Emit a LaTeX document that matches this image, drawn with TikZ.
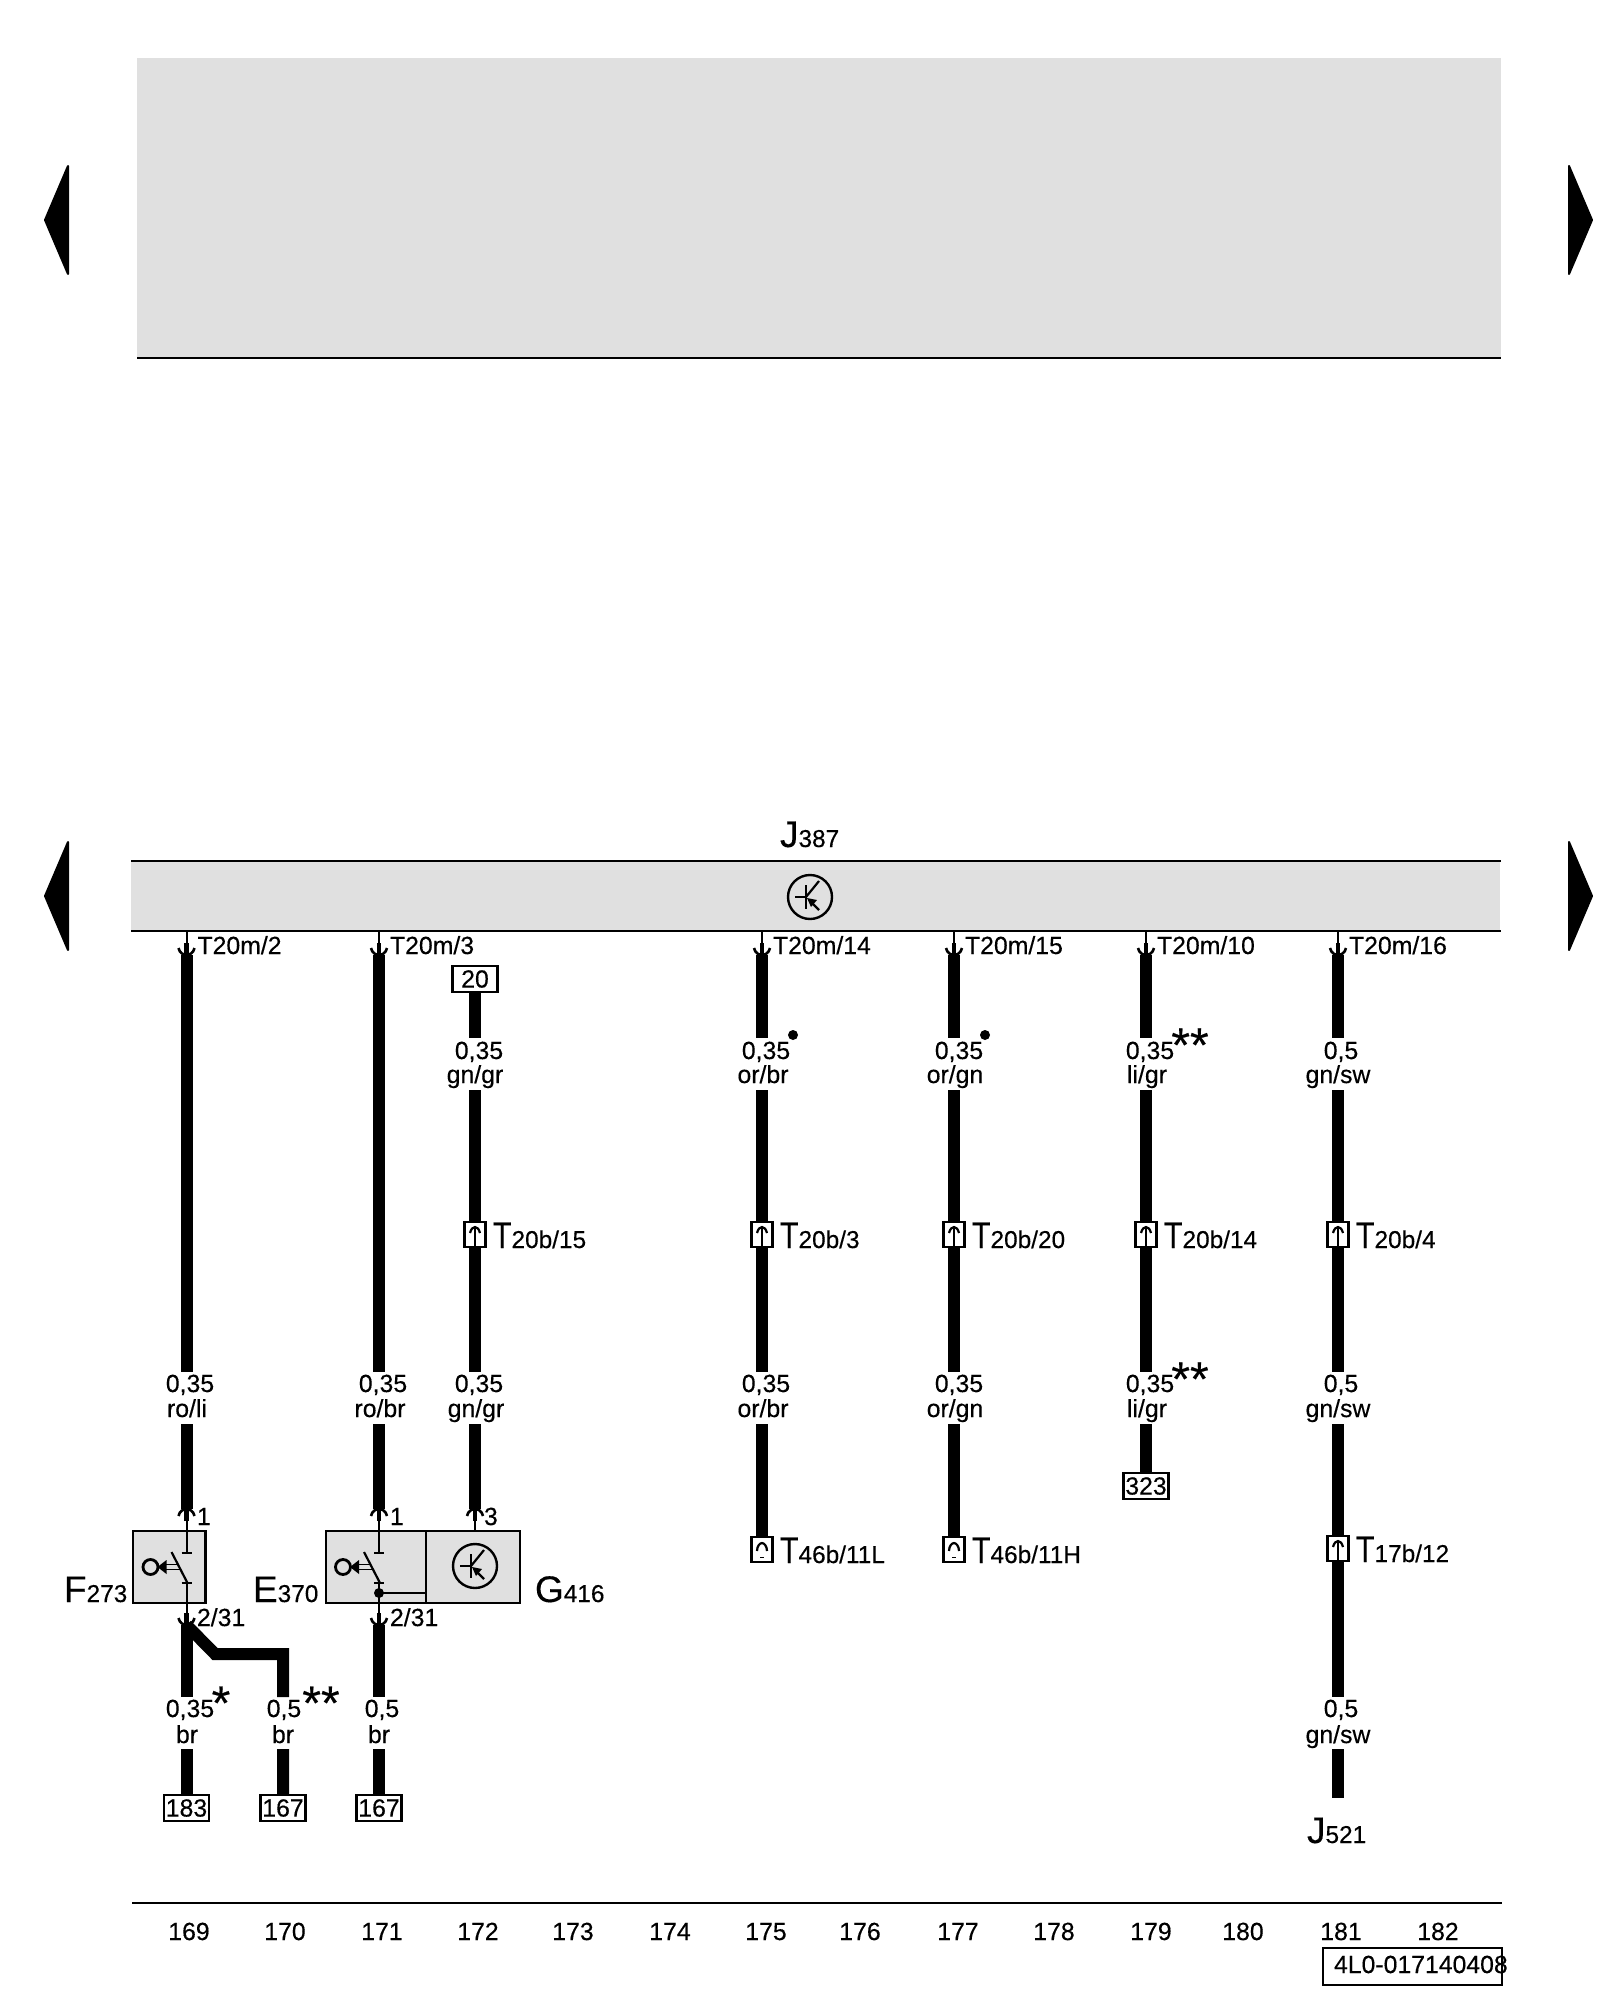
\documentclass[tikz,border=0pt]{standalone}
\usepackage{fontspec}
\usepackage{graphicx}
\setmainfont{Liberation Sans}[FakeBold=0.35]
\usetikzlibrary{calc}
\definecolor{panel}{HTML}{E0E0E0}
\newcommand{\fsN}{\fontsize{12.4}{14}\selectfont}
\newcommand{\fsB}{\fontsize{18.5}{20}\selectfont}
\newcommand{\fsS}{\fontsize{12.2}{14}\selectfont}
\newcommand{\fsStar}{\fontsize{24}{24}\selectfont}
\newcommand{\bigT}{\scalebox{0.82}[1]{\fsB T}}
\tikzset{
  x=0.5pt,y=-0.5pt,
  wire/.style={line width=6pt,line cap=butt,line join=miter},
  thinl/.style={line width=1.1pt},
  rule/.style={line width=1.2pt},
  lbl/.style={anchor=base,inner sep=0pt,outer sep=0pt,font=\fsN},
  lblw/.style={anchor=base west,inner sep=0pt,outer sep=0pt,font=\fsN},
  star/.style={anchor=center,inner sep=0pt,font=\fsStar},
  ref/.style={draw,fill=white,line width=1.1pt,inner sep=0pt,minimum width=22.5pt,minimum height=13pt,font=\fsN},
  comp/.style={draw,fill=panel,line width=1.2pt},
  pindown/.pic={
    \draw[line width=1pt] (0,-24) -- (0,-2);
    \draw[line width=2.4pt] (0,-12) -- (0,-1);
    \draw[line width=1.3pt] (-8,-7) .. controls (-7,-2) and (-3,0) .. (0,0) .. controls (3,0) and (7,-2) .. (8,-7);
  },
  pinup/.pic={
    \draw[line width=1pt] (0,22) -- (0,2);
    \draw[line width=2.4pt] (0,12) -- (0,1);
    \draw[line width=1.3pt] (-8,7) .. controls (-7,2) and (-3,0) .. (0,0) .. controls (3,0) and (7,2) .. (8,7);
  },
  tstem/.pic={
    \draw[fill=white,line width=1.1pt] (-10.5,0) rectangle (10.5,25);
    \draw[line width=1.2pt] (0,25) -- (0,6);
    \draw[line width=1.1pt] (-5,11) .. controls (-4,7) and (-2,5) .. (0,5) .. controls (2,5) and (4,7) .. (5,11);
  },
  tcap/.pic={
    \draw[fill=white,line width=1.1pt] (-10.5,0) rectangle (10.5,25);
    \draw[line width=1.1pt] (-5,14) .. controls (-5,9) and (-2,6) .. (0,6) .. controls (2,6) and (5,9) .. (5,14);
    \draw[line width=0.5pt] (-2,20) -- (2,20);
  },
  sensor/.pic={
    \draw[line width=1.2pt] (0,0) circle (22);
    \draw[line width=1.1pt] (-15,0) -- (-4,0);
    \draw[line width=1.1pt] (-4,-12) -- (-4,12);
    \draw[line width=1.1pt] (-4,0) -- (9,-16);
    \draw[line width=1.1pt] (0,4) -- (9,13);
    \fill (-3,1) -- (7,3) -- (1,10) -- cycle;
  },
  switch/.pic={
    \draw[line width=1pt] (0,0) -- (0,22);
    \draw[line width=1.1pt] (-5,22) -- (5,22);
    \draw[line width=1.1pt] (-15,21) -- (1,52);
    \draw[line width=1.1pt] (-5,52) -- (5,52);
    \draw[line width=1pt] (0,52) -- (0,72);
    \draw[line width=1.4pt] (-36,36) circle (7.5);
    \fill (-29,36) -- (-20,29) -- (-20,43) -- cycle;
    \draw[line width=0.9pt] (-22,33.5) -- (-8,33.5);
    \draw[line width=0.9pt] (-22,38.5) -- (-6,38.5);
  }
}
\begin{document}
\begin{tikzpicture}
\useasboundingbox (0,0) rectangle (1600,2000);
% panels
\fill[panel] (137,58) rectangle (1501,358);
\draw[rule] (137,358) -- (1501,358);
\fill[panel] (131,861) rectangle (1500,931);
\draw[rule] (131,861) -- (1501,861);
\draw[rule] (131,931) -- (1501,931);
\pic at (810,897) {sensor};
% page markers
\foreach \y in {220,896}{
  \fill[line join=round,draw,line width=1pt] (68,\y-54) -- (45,\y) -- (68,\y+54) -- cycle;
  \fill[line join=round,draw,line width=1pt] (1569,\y-54) -- (1592,\y) -- (1569,\y+54) -- cycle;
}
\node[lblw] (jmain) at (780,847) {\fsB J\fsS 387};
% reference boxes
\node[ref] (r20) at (475,979) {20};
\node[ref] (r323) at (1146,1486) {323};
\node[ref] (r183) at (186.5,1808) {183};
\node[ref] (r167a) at (283,1808) {167};
\node[ref] (r167b) at (379,1808) {167};
% wires
\coordinate (a1) at (186.5,955); \coordinate (a2) at (186.5,1372); \coordinate (a3) at (186.5,1424); \coordinate (a4) at (186.5,1509);
\coordinate (b1) at (379,955); \coordinate (b2) at (379,1372); \coordinate (b3) at (379,1424); \coordinate (b4) at (379,1509);
\coordinate (c1) at (475,1038); \coordinate (c2) at (475,1090); \coordinate (c3) at (475,1372); \coordinate (c4) at (475,1424); \coordinate (c5) at (475,1509);
\coordinate (d1) at (762,955); \coordinate (d2) at (762,1038); \coordinate (d3) at (762,1090); \coordinate (d4) at (762,1372); \coordinate (d5) at (762,1424); \coordinate (d6) at (762,1537);
\coordinate (e1) at (954,955); \coordinate (e2) at (954,1038); \coordinate (e3) at (954,1090); \coordinate (e4) at (954,1372); \coordinate (e5) at (954,1424); \coordinate (e6) at (954,1537);
\coordinate (f1) at (1146,955); \coordinate (f2) at (1146,1038); \coordinate (f3) at (1146,1090); \coordinate (f4) at (1146,1372); \coordinate (f5) at (1146,1424);
\coordinate (g1) at (1338,955); \coordinate (g2) at (1338,1038); \coordinate (g3) at (1338,1090); \coordinate (g4) at (1338,1372); \coordinate (g5) at (1338,1424); \coordinate (g6) at (1338,1697); \coordinate (g7) at (1338,1749); \coordinate (g8) at (1338,1798);
\draw[wire] (a1) -- (a2) (a3) -- (a4);
\draw[wire] (b1) -- (b2) (b3) -- (b4);
\draw[wire] (r20.south) -- (c1) (c2) -- (c3) (c4) -- (c5);
\draw[wire] (d1) -- (d2) (d3) -- (d4) (d5) -- (d6);
\draw[wire] (e1) -- (e2) (e3) -- (e4) (e5) -- (e6);
\draw[wire] (f1) -- (f2) (f3) -- (f4) (f5) -- (r323.north);
\draw[wire] (g1) -- (g2) (g3) -- (g4) (g5) -- (g6) (g7) -- (g8);
% lower wires
\coordinate (h1) at (186.5,1625); \coordinate (h2) at (186.5,1697); \coordinate (h3) at (186.5,1749);
\coordinate (i1) at (215,1654); \coordinate (i2) at (283,1654); \coordinate (i3) at (283,1697); \coordinate (i4) at (283,1749);
\coordinate (k1) at (379,1625); \coordinate (k2) at (379,1697); \coordinate (k3) at (379,1749);
\draw[wire] (h1) -- (h2) (h3) -- (r183.north);
\draw[wire] (h1) -- (i1) -- (i2) -- (i3) (i4) -- (r167a.north);
\draw[wire] (k1) -- (k2) (k3) -- (r167b.north);
% pins at control unit
\foreach \p/\t in {a1/T20m\slash 2,b1/T20m\slash 3,d1/T20m\slash 14,e1/T20m\slash 15,f1/T20m\slash 10,g1/T20m\slash 16}{
  \pic at (\p) {pindown};
  \node[lblw] at ($(\p)+(11,-1)$) {\t};
}
% connectors
\foreach \p/\t in {{475,1222}/15,{762,1222}/3,{954,1222}/20,{1146,1222}/14,{1338,1222}/4}{
  \pic at (\p) {tstem};
  \node[lblw] at ($(\p)+(18,26)$) {\bigT\fsS 20b\slash \t};
}
\pic at (d6) {tcap};
\node[lblw] (t46l) at (780,1563) {\bigT\fsS 46b\slash 11L};
\pic at (e6) {tcap};
\node[lblw] (t46h) at (972,1563) {\bigT\fsS 46b\slash 11H};
\pic at (1338,1536) {tstem};
\node[lblw] (t17) at (1356,1562) {\bigT\fsS 17b\slash 12};
% components
\draw[comp] (133,1531) rectangle (205.5,1603);
\draw[comp] (326,1531) rectangle (426,1603);
\draw[comp] (426,1531) rectangle (520,1603);
\pic at (186.5,1531) {switch};
\pic at (379,1531) {switch};
\pic at (475,1566) {sensor};
\draw[line width=1pt] (475,1531) -- (475,1510);
\fill (379,1593) circle (5);
\draw[line width=1.1pt] (379,1593) -- (426,1593);
\pic at (a4) {pinup};
\pic at (b4) {pinup};
\pic at (c5) {pinup};
\pic at (h1) {pindown};
\pic at (k1) {pindown};
\node[lblw] at (197,1525) {1};
\node[lblw] at (390,1525) {1};
\node[lblw] at (484,1525) {3};
\node[lblw] at (197,1626) {2\slash 31};
\node[lblw] at (390,1626) {2\slash 31};
\node[lblw] (nF) at (64,1602) {\fsB F\fsS 273};
\node[lblw] (nE) at (253,1602) {\fsB E\fsS 370};
\node[lblw] (nG) at (535,1602) {\fsB G\fsS 416};
\node[lblw] (nJ) at (1307,1843) {\fsB J\fsS 521};
% wire labels
\foreach \x/\y/\t in {
 479/1059/{0,35}, 475/1083/{gn\slash gr},
 766/1059/{0,35}, 763/1083/{or\slash br},
 959/1059/{0,35}, 955/1083/{or\slash gn},
 1150/1059/{0,35}, 1147/1083/{li\slash gr},
 1341/1059/{0,5}, 1338/1083/{gn\slash sw},
 190/1392/{0,35}, 187/1417/{ro\slash li},
 383/1392/{0,35}, 380/1417/{ro\slash br},
 479/1392/{0,35}, 476/1417/{gn\slash gr},
 766/1392/{0,35}, 763/1417/{or\slash br},
 959/1392/{0,35}, 955/1417/{or\slash gn},
 1150/1392/{0,35}, 1147/1417/{li\slash gr},
 1341/1392/{0,5}, 1338/1417/{gn\slash sw},
 190/1717/{0,35}, 187/1743/{br},
 284/1717/{0,5}, 283/1743/{br},
 382/1717/{0,5}, 379/1743/{br},
 1341/1717/{0,5}, 1338/1743/{gn\slash sw}}{
  \node[lbl] at (\x,\y) {\t};
}
\foreach \x/\y/\t in {221/1703/*, 321/1703/**, 1190/1045/**, 1190/1379/**}{
  \node[star] at (\x,\y) {\t};
}
\fill (793,1035) circle (5);
\fill (985,1035) circle (5);
% page foot
\draw[rule] (132,1903) -- (1502,1903);
\foreach \x/\t in {189/169,285/170,382/171,478/172,573/173,670/174,766/175,860/176,958/177,1054/178,1151/179,1243/180,1341/181,1438/182}{
  \node[lbl] at (\x,1940) {\t};
}
\draw[line width=1.2pt] (1323,1948) rectangle (1502,1985);
\node[lblw] (doc) at (1334,1973) {4L0-017140408};
\end{tikzpicture}
\end{document}
